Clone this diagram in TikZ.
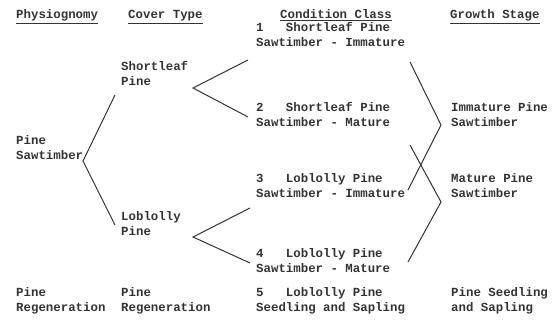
\documentclass[tikz,border=0pt]{standalone}
\usepackage{fontspec}
\setmonofont{Liberation Mono}
\definecolor{ink}{HTML}{333333}
\begin{document}
\begin{tikzpicture}[x=1pt,y=-1pt,
    txt/.style={anchor=base west,inner sep=0pt,align=left,text=ink,
      font=\ttfamily\bfseries\fontsize{12.4}{15}\selectfont},
    brk/.style={draw=ink,line width=1pt}]
  \useasboundingbox (0,0) rectangle (554,331);
  % column heads
  \node[txt] (hphys) at (16,19) {\underline{Physiognomy}};
  \node[txt] (hcov) at (128,19) {\underline{Cover Type}};
  \node[txt] (hcond) at (280,19) {\underline{Condition Class}};
  \node[txt] (hgrow) at (450,19) {\underline{Growth Stage}};
  % physiognomy and cover type
  \node[txt] (phsaw) at (16,160) {Pine\\Sawtimber};
  \node[txt] (phreg) at (16,311) {Pine\\Regeneration};
  \node[txt] (cvsl) at (121,86) {Shortleaf\\Pine};
  \node[txt] (cvlob) at (121,236) {Loblolly\\Pine};
  \node[txt] (cvreg) at (121,311) {Pine\\Regeneration};
  % condition classes
  \node[txt] (cc1) at (256,47) {1\ \ \ Shortleaf Pine\\Sawtimber - Immature};
  \node[txt] (cc2) at (256,127) {2\ \ \ Shortleaf Pine\\Sawtimber - Mature};
  \node[txt] (cc3) at (256,197) {3\ \ \ Loblolly Pine\\Sawtimber - Immature};
  \node[txt] (cc4) at (256,272) {4\ \ \ Loblolly Pine\\Sawtimber - Mature};
  \node[txt] (cc5) at (256,311) {5\ \ \ Loblolly Pine\\Seedling and Sapling};
  % growth stages
  \node[txt] (gr1) at (451,127) {Immature Pine\\Sawtimber};
  \node[txt] (gr2) at (451,197) {Mature Pine\\Sawtimber};
  \node[txt] (gr3) at (451,311) {Pine Seedling\\and Sapling};
  % brackets
  \coordinate (physv) at (83,161);
  \draw[brk] ([shift={(-6,9)}]cvsl.base west) -- (physv)
    -- ([shift={(-6,-11)}]cvlob.base west);
  \draw[brk] ([shift={(-8,13)}]cc1.base west) -- ([shift={(72,2)}]cvsl.base west)
    -- ([shift={(-8,-10)}]cc2.base west);
  \draw[brk] ([shift={(-6,11)}]cc3.base west) -- ([shift={(72,1)}]cvlob.base west)
    -- ([shift={(-6,-9)}]cc4.base west);
  \draw[brk] ([shift={(154,15)}]cc1.base west) -- ([shift={(-10,-2)}]gr1.base west)
    -- ([shift={(152,-7)}]cc3.base west);
  \draw[brk] ([shift={(154,18)}]cc2.base west) -- ([shift={(-10,5)}]gr2.base west)
    -- ([shift={(152,-10)}]cc4.base west);
\end{tikzpicture}
\end{document}
